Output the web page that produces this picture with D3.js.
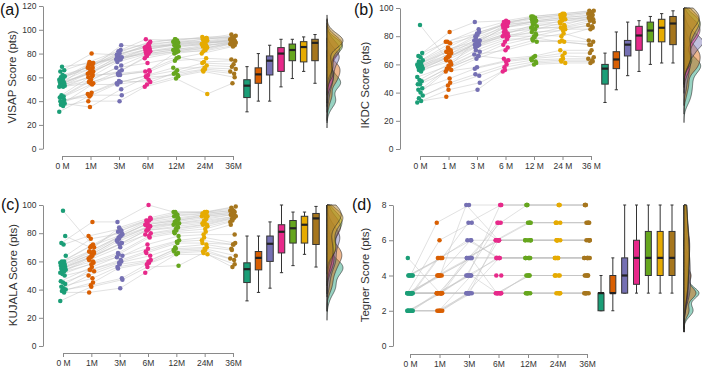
<!DOCTYPE html>
<html><head><meta charset="utf-8">
<script src="https://cdn.jsdelivr.net/npm/d3@7"></script>
<style>body{margin:0;background:#fff;} svg{display:block;}</style>
</head><body><svg id="c" width="702" height="372"></svg>
<script>
const colors = ["#1B9E77","#D95F02","#7570B3","#E7298A","#66A61E","#E6AB02","#A6761D"];
const timesA = ["0 M","1M","3M","6M","12M","24M","36M"];
const timesB = ["0 M","1 M","3 M","6 M","12 M","24 M","36 M"];
const ticks120 = [0,20,40,60,80,100,120];
const ticks100 = [0,20,40,60,80,100];
const ticks8 = [0,2,4,6,8];

// VISAP (subject order)
const visap0 = [31,36,37,38,39,40,41,43,43,44,45,52,52,53,53,53,54,55,55,56,56,57,58,59,60,61,62,65,66,69];
const visap1 = [45,40,54,35,46,47,44,55,58,56,62,55,60,61,57,63,66,64,65,63,71,68,72,69,70,67,68,80,73,72];
const visap3 = [45,40,54,50,57,55,56,62,68,62,63,66,65,73,70,75,76,75,78,75,76,79,77,80,78,87,81,79,83,82];
const visap6 = [54,52,58,60,56,62,61,65,72,65,66,78,76,80,79,82,80,81,84,82,83,86,84,85,88,86,90,87,92,89];
const visap12 = [61,59,63,62,64,68,66,74,77,76,80,82,81,83,82,84,83,85,87,86,88,87,89,88,90,89,92,90,91,92];
const visap24 = [65,46,67,66,70,68,72,76,73,80,83,82,85,84,86,85,87,88,87,89,88,90,89,91,90,92,93,92,94,93];
const visap36 = [60,55,65,63,69,67,71,75,74,86,88,87,89,88,90,89,89,91,90,90,92,91,91,93,92,94,93,95,94,96];

// IKDC
const ikdc0 = [33,34,36,38,40,42,43,46,46,48,49,51,55,56,57,57,58,58,58,59,59,60,60,61,62,63,65,66,68,88];
const ikdc1 = [42,37,47,45,55,50,57,56,58,57,61,59,63,62,65,64,66,65,68,67,69,70,71,69,75,72,76,83,76,60];
const ikdc3 = [47,42,53,52,58,57,66,64,67,66,70,69,73,72,74,75,74,76,75,77,76,79,77,81,80,83,82,90,85,77];
const ikdc6 = [56,55,60,58,63,62,64,72,70,74,78,76,80,79,81,80,82,83,82,84,86,87,86,88,89,88,90,91,90,89];
const ikdc12 = [61,60,63,62,65,64,66,77,76,79,78,81,80,83,82,85,86,85,88,87,89,90,91,90,92,91,93,94,93,94];
const ikdc24 = [62,61,64,63,68,66,70,76,77,76,82,80,85,84,86,87,86,89,88,91,90,92,93,92,94,93,95,96,95,96];
const ikdc36 = [62,61,64,63,68,65,70,74,76,74,77,86,85,88,87,91,90,92,93,92,94,93,95,94,96,95,97,98,97,98];

// KUJALA
const kujala0 = [32,38,39,40,41,42,44,45,46,50,51,52,53,54,54,55,55,56,56,57,58,58,59,60,60,64,72,73,78,96];
const kujala1 = [42,38,45,43,50,48,54,53,56,54,59,58,61,60,63,62,64,63,66,65,67,67,71,67,72,76,78,88,70,70];
const kujala3 = [47,41,55,48,58,56,60,59,63,61,65,64,70,66,73,72,74,73,76,75,78,77,79,78,81,80,83,88,82,84];
const kujala6 = [56,52,59,58,61,60,66,64,69,67,77,72,79,78,82,80,83,82,85,84,86,85,87,86,89,88,90,100,89,91];
const kujala12 = [57,65,67,66,69,68,73,70,75,74,80,78,82,81,84,83,86,85,87,87,89,88,90,89,92,91,94,95,93,95];
const kujala24 = [66,65,68,67,70,69,73,72,77,75,81,79,85,83,86,86,88,87,90,89,92,91,93,92,94,93,95,95,94,95];
const kujala36 = [58,56,62,61,68,64,72,69,73,72,86,79,89,88,91,90,92,91,93,92,94,93,95,94,96,95,97,99,96,98];

// Tegner
const tegner0 = [2,2,2,2,2,2,2,2,2,3,3,3,3,3,3,3,3,3,3,3,3,3,3,3,4,4,4,4,4,4,5];
const tegner1 = [2,2,3,2,3,2,3,2,3,3,3,4,3,3,5,3,3,4,3,4,5,4,6,4,5,4,7,5,4,5,3];
const tegner3 = [3,3,3,4,3,3,5,3,3,4,3,5,3,4,6,4,5,4,5,8,5,4,7,5,6,5,8,5,6,7,4];
const tegner6 = [3,3,3,3,3,5,3,3,6,4,3,5,6,5,6,4,6,5,7,6,5,8,6,6,5,7,8,6,5,8,7];
const tegner12 = [3,3,3,4,3,5,4,3,6,4,4,5,6,5,7,4,6,5,8,6,5,8,6,7,5,7,8,6,5,8,7];
const tegner24 = [3,3,3,4,3,5,4,3,6,4,4,5,6,5,7,4,6,5,8,6,5,8,6,7,5,7,8,6,5,8,7];
const tegner36 = [3,3,3,4,3,5,4,3,6,4,4,5,6,5,7,4,6,5,8,6,5,8,6,7,5,7,8,6,5,8,7];

const panels = [
  {letter:"(a)", title:"VISAP Score (pts)", series:[visap0,visap1,visap3,visap6,visap12,visap24,visap36], labels:timesA, ticks:ticks120,
   yDomain:[0,120], yRange:[148.7,6], yAxisX:43, xFirst:62, xLast:233, xAxisY:156, boxFirst:247, boxLast:315, boxW:6.5,
   densX:327, densW:16, letterX:0, letterY:15, titleX:12, titleY:77},
  {letter:"(b)", title:"IKDC Score (pts)", series:[ikdc0,ikdc1,ikdc3,ikdc6,ikdc12,ikdc24,ikdc36], labels:timesB, ticks:ticks100,
   yDomain:[0,100], yRange:[149,8], yAxisX:400, xFirst:420, xLast:591, xAxisY:156, boxFirst:605, boxLast:673, boxW:6.5,
   densX:684, densW:19, letterX:354, letterY:15, titleX:365, titleY:85},
  {letter:"(c)", title:"KUJALA Score (pts)", series:[kujala0,kujala1,kujala3,kujala6,kujala12,kujala24,kujala36], labels:timesA, ticks:ticks100,
   yDomain:[0,100], yRange:[346,205], yAxisX:43, xFirst:63, xLast:233, xAxisY:353, boxFirst:247, boxLast:316, boxW:6.5,
   densX:327, densW:16, letterX:1, letterY:210, titleX:13, titleY:275},
  {letter:"(d)", title:"Tegner Score (pts)", series:[tegner0,tegner1,tegner3,tegner6,tegner12,tegner24,tegner36], labels:timesA, ticks:ticks8,
   yDomain:[0,8], yRange:[346,205], yAxisX:393, xFirst:410, xLast:587, xAxisY:354, boxFirst:601, boxLast:672, boxW:6,
   densX:684, densW:15, letterX:352, letterY:210, titleX:365, titleY:275}
];

const FONT = "'Liberation Sans', Arial, Helvetica, sans-serif";
const svg = d3.select("#c");

function fivenum(arr){
  const x = arr.slice().sort((a,b)=>a-b), n = x.length;
  const n4 = Math.floor((n+3)/2)/2;
  return [1, n4, (n+1)/2, n+1-n4, n].map(p => 0.5*(x[Math.floor(p)-1] + x[Math.ceil(p)-1]));
}
function bwNrd0(arr){
  const x = arr.slice().sort((a,b)=>a-b);
  const s = d3.deviation(x);
  const iqr = d3.quantile(x,0.75) - d3.quantile(x,0.25);
  let lo = Math.min(s, iqr/1.34);
  if (!(lo > 0)) lo = s || 1;
  return 0.9*lo*Math.pow(x.length,-0.2);
}
function kde(arr, bw, lo, hi, steps){
  const pts = [];
  const n = arr.length;
  for (let k=0;k<=steps;k++){
    const v = lo + (hi-lo)*k/steps;
    let s = 0;
    for (const xi of arr){ const z=(v-xi)/bw; s += Math.exp(-0.5*z*z); }
    pts.push([v, s/(n*bw*Math.sqrt(2*Math.PI))]);
  }
  return pts;
}

panels.forEach(p => {
  const g = svg.append("g");
  const y = d3.scaleLinear().domain(p.yDomain).range(p.yRange);
  const x = d3.scalePoint().domain(p.labels).range([p.xFirst, p.xLast]);
  const xb = d3.scalePoint().domain(p.labels).range([p.boxFirst, p.boxLast]);

  // axes
  const ya = g.append("g").attr("transform",`translate(${p.yAxisX},0)`)
    .call(d3.axisLeft(y).tickValues(p.ticks).tickSize(4).tickSizeOuter(0).tickPadding(2.5));
  const xa = g.append("g").attr("transform",`translate(0,${p.xAxisY})`)
    .call(d3.axisBottom(x).tickSize(4).tickSizeOuter(0).tickPadding(2.5));
  [ya, xa].forEach(a => {
    a.attr("font-family", FONT).attr("font-size", 8.5);
    a.select(".domain").attr("stroke","#8a8a8a");
    a.selectAll(".tick line").attr("stroke","#8a8a8a");
    a.selectAll(".tick text").attr("fill","#333");
  });

  // titles
  g.append("text").attr("transform",`translate(${p.titleX},${p.titleY}) rotate(-90)`)
    .attr("text-anchor","middle").attr("dominant-baseline","central")
    .attr("font-family",FONT).attr("font-size",11.5).attr("fill","#333").text(p.title);
  g.append("text").attr("x",p.letterX).attr("y",p.letterY)
    .attr("font-family",FONT).attr("font-size",16).attr("fill","#111").text(p.letter);

  const n = p.series[0].length;
  const jit = (i,t) => ((((i*7 + t*5) % 11) - 5) * 0.55);

  // subject lines
  const line = d3.line().x(d=>d[0]).y(d=>d[1]);
  const lg = g.append("g");
  for (let i=0;i<n;i++){
    const pts = p.series.map((s,t)=>[x(p.labels[t])+jit(i,t), y(s[i])]);
    lg.append("path").attr("d", line(pts)).attr("fill","none")
      .attr("stroke","#c4c4c4").attr("stroke-width",0.6).attr("stroke-opacity",0.85);
  }
  // dots
  const dg = g.append("g");
  p.series.forEach((s,t) => {
    s.forEach((v,i) => {
      dg.append("circle").attr("cx", x(p.labels[t])+jit(i,t)).attr("cy", y(v)).attr("r",2.25)
        .attr("fill", colors[t]);
    });
  });

  // boxplots
  const bg = g.append("g");
  p.series.forEach((s,t) => {
    const [mn, q1, med, q3, mx] = fivenum(s);
    const iqr = q3-q1;
    const lw = d3.min(s.filter(v => v >= q1-1.5*iqr));
    const uw = d3.max(s.filter(v => v <= q3+1.5*iqr));
    const cx = xb(p.labels[t]), w = p.boxW;
    bg.append("line").attr("x1",cx).attr("x2",cx).attr("y1",y(uw)).attr("y2",y(q3)).attr("stroke","#333").attr("stroke-width",1);
    bg.append("line").attr("x1",cx).attr("x2",cx).attr("y1",y(q1)).attr("y2",y(lw)).attr("stroke","#333").attr("stroke-width",1);
    bg.append("line").attr("x1",cx-w/4).attr("x2",cx+w/4).attr("y1",y(uw)).attr("y2",y(uw)).attr("stroke","#333").attr("stroke-width",1);
    bg.append("line").attr("x1",cx-w/4).attr("x2",cx+w/4).attr("y1",y(lw)).attr("y2",y(lw)).attr("stroke","#333").attr("stroke-width",1);
    bg.append("rect").attr("x",cx-w/2).attr("width",w).attr("y",y(q3)).attr("height",Math.max(0.5,y(q1)-y(q3)))
      .attr("fill",colors[t]).attr("stroke","#333").attr("stroke-width",1);
    bg.append("line").attr("x1",cx-w/2).attr("x2",cx+w/2).attr("y1",y(med)).attr("y2",y(med)).attr("stroke","#222").attr("stroke-width",2.2);
  });

  // densities (half violins, common scale)
  const ymax = p.yDomain[1], ymin = p.yDomain[0];
  const dens = p.series.map(s => {
    const bw = bwNrd0(s);
    const lo = Math.max(ymin, d3.min(s)-3*bw), hi = Math.min(ymax, d3.max(s)+3*bw);
    return kde(s, bw, lo, hi, 120);
  });
  const dmax = d3.max(dens, d => d3.max(d, e => e[1]));
  const wx = d3.scaleLinear().domain([0,dmax]).range([0,p.densW]);
  const area = d3.area().curve(d3.curveBasis).y(d=>y(d[0])).x0(p.densX).x1(d=>p.densX+wx(d[1]));
  const ag = g.append("g");
  dens.forEach((d,t) => {
    ag.append("path").attr("d", area(d)).attr("fill", colors[t]).attr("fill-opacity",0.45)
      .attr("stroke","#2a2a2a").attr("stroke-width",0.6);
  });
});
</script>
</body></html>
